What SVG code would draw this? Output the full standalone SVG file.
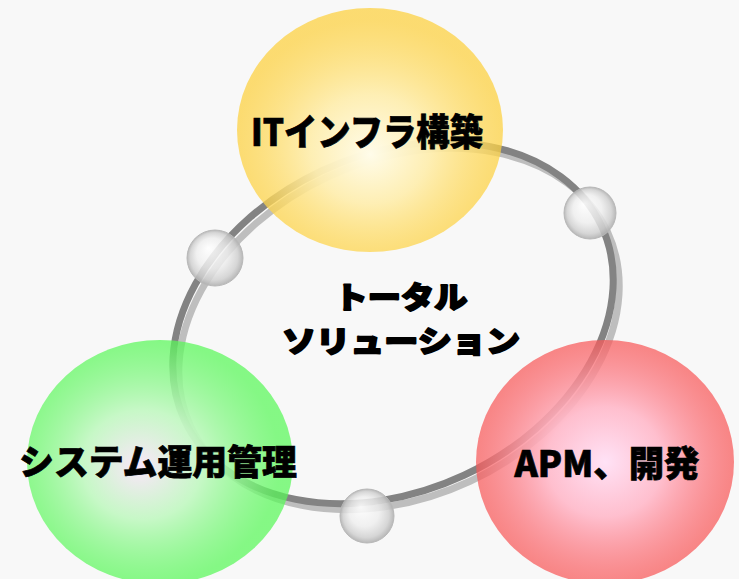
<svg xmlns="http://www.w3.org/2000/svg" width="739" height="579" viewBox="0 0 739 579">
<style>
.lbl{font-family:"Noto Sans CJK JP","Noto Sans",sans-serif;font-weight:900;fill:#000;stroke:#000;stroke-width:0.7;text-anchor:middle}
.ctr{font-family:"Noto Sans CJK JP","Noto Sans",sans-serif;font-weight:900;fill:#000;stroke:#000;stroke-width:1.8;stroke-linejoin:round;text-anchor:middle}
.ringdark{fill:none;stroke:#838383;stroke-width:7}
.ringlight{fill:none;stroke:#bebebe;stroke-width:7}
.sphere{fill:url(#gSphere);stroke:#b8b8b8;stroke-width:1}
</style>
<defs>
<radialGradient id="gYellow" cx="0.5" cy="0.55" r="0.5" fx="0.5" fy="0.6">
<stop offset="0" stop-color="#fffcea" stop-opacity="1"/>
<stop offset="0.45" stop-color="#feeeb0" stop-opacity="0.95"/>
<stop offset="1" stop-color="#fdd03c" stop-opacity="0.72"/>
</radialGradient>
<radialGradient id="gGreen" cx="0.45" cy="0.5" r="0.5" fx="0.42" fy="0.52">
<stop offset="0" stop-color="#fae6fa" stop-opacity="1"/>
<stop offset="0.45" stop-color="#c4f8c4" stop-opacity="0.95"/>
<stop offset="1" stop-color="#58f858" stop-opacity="0.72"/>
</radialGradient>
<radialGradient id="gRed" cx="0.5" cy="0.5" r="0.5" fx="0.5" fy="0.5">
<stop offset="0" stop-color="#ffe2f6" stop-opacity="1"/>
<stop offset="0.45" stop-color="#ffbccc" stop-opacity="0.95"/>
<stop offset="1" stop-color="#f85858" stop-opacity="0.72"/>
</radialGradient>
<radialGradient id="gSphere" cx="0.5" cy="0.5" r="0.5" fx="0.38" fy="0.32">
<stop offset="0" stop-color="#ffffff" stop-opacity="0.9"/>
<stop offset="0.55" stop-color="#eeeeee" stop-opacity="0.82"/>
<stop offset="0.85" stop-color="#d0d0d0" stop-opacity="0.85"/>
<stop offset="1" stop-color="#b0b0b0" stop-opacity="0.9"/>
</radialGradient>
</defs>
<rect width="739" height="579" fill="#f8f8f8"/>
<g id="connectors">
<ellipse class="ringlight" cx="399" cy="329" rx="230" ry="168" transform="rotate(-25 399 329)"/>
<ellipse class="ringdark" cx="393" cy="323" rx="230" ry="168" transform="rotate(-25 393 323)"/>
</g>
<g id="node-it">
<ellipse cx="370" cy="130" rx="133" ry="122" fill="url(#gYellow)"/>
<text class="lbl" x="367" y="146" font-size="37" textLength="232" lengthAdjust="spacingAndGlyphs">ITインフラ構築</text>
</g>
<g id="node-ops">
<ellipse cx="160" cy="462" rx="133" ry="122" fill="url(#gGreen)"/>
<text class="lbl" x="158" y="475" font-size="35" textLength="278" lengthAdjust="spacingAndGlyphs">システム運用管理</text>
</g>
<g id="node-apm">
<ellipse cx="605" cy="462" rx="129" ry="122" fill="url(#gRed)"/>
<text class="lbl" x="607" y="477" font-size="36" textLength="185" lengthAdjust="spacingAndGlyphs">APM、開発</text>
</g>
<g id="spheres">
<circle class="sphere" cx="215" cy="258" r="28"/>
<circle class="sphere" cx="590" cy="213" r="26"/>
<circle class="sphere" cx="367" cy="516" r="27"/>
</g>
<g id="node-total">
<text class="ctr" x="401" y="308" font-size="30" textLength="133" lengthAdjust="spacingAndGlyphs">トータル</text>
<text class="ctr" x="401" y="352" font-size="30" textLength="238" lengthAdjust="spacingAndGlyphs">ソリューション</text>
</g>
</svg>
